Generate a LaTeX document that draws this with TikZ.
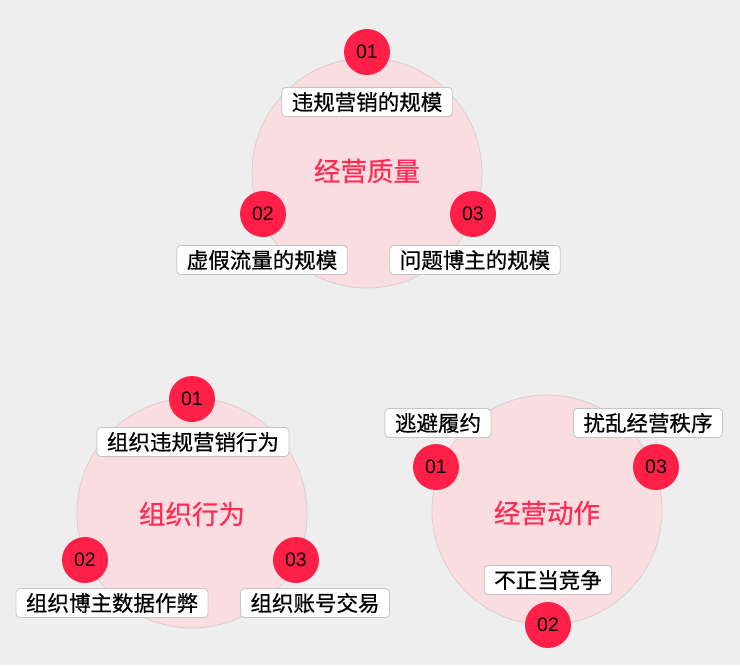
\documentclass[tikz,border=0pt]{standalone}
\usepackage{fontspec}
\setmainfont{Liberation Sans}
\newfontfamily\cjk[FakeBold=0.6]{Noto Sans CJK SC}
\usepackage{tikz}
\definecolor{bgray}{HTML}{EEEEEE}
\definecolor{ringpink}{HTML}{FADDE0}
\definecolor{ringline}{HTML}{D6CCCD}
\definecolor{badgered}{HTML}{FF1F47}
\definecolor{titlered}{HTML}{FF2D55}
\definecolor{boxline}{HTML}{C4C4C4}
\newcommand\ringradius{115}

\begin{document}
\begin{tikzpicture}[x=1pt, y=-1pt,
    ring/.style={circle, draw=ringline, line width=0.7pt, fill=ringpink, minimum size=2*\ringradius pt, inner sep=0pt},
    title/.style={text=titlered, font=\cjk\fontsize{26.5}{26.5}\selectfont},
    badge/.style={circle, fill=badgered, minimum size=46pt, inner sep=0pt, font=\fontsize{19.5}{19.5}\selectfont},
    tag/.style={draw=boxline, line width=0.8pt, fill=white, rounded corners=4pt, minimum height=29pt, inner xsep=10pt, inner ysep=0pt, font=\cjk\fontsize{21.5}{21.5}\selectfont}]
        \useasboundingbox (0,0) rectangle (740,665);
        \fill[bgray] (0,0) rectangle (740,665);
        % quality
        \node[ring]  (quality) at (367, 173) {};
        \node[title] (qualityt) at (367, 171) {经营质量};
        \node[badge] (q1) at (367, 52)  {01};
        \node[badge] (q2) at (263, 214) {02};
        \node[badge] (q3) at (473, 214) {03};
        \node[tag]   (q1t) at (367, 102) {违规营销的规模};
        \node[tag]   (q2t) at (262, 260) {虚假流量的规模};
        \node[tag]   (q3t) at (475, 260) {问题博主的规模};
        % organisation
        \node[ring]  (group) at (192, 513) {};
        \node[title] (groupt) at (192, 514) {组织行为};
        \node[badge] (g1) at (192, 399) {01};
        \node[badge] (g2) at (85, 560)  {02};
        \node[badge] (g3) at (296, 560) {03};
        \node[tag]   (g1t) at (193, 442) {组织违规营销行为};
        \node[tag]   (g2t) at (112, 603) {组织博主数据作弊};
        \node[tag]   (g3t) at (315, 603) {组织账号交易};
        % operation
        \node[ring]  (action) at (547, 510) {};
        \node[title] (actiont) at (547, 513) {经营动作};
        \node[badge] (a1) at (436, 467) {01};
        \node[badge] (a2) at (548, 625) {02};
        \node[badge] (a3) at (656, 467) {03};
        \node[tag]   (a1t) at (438, 423) {逃避履约};
        \node[tag]   (a2t) at (548, 580) {不正当竞争};
        \node[tag]   (a3t) at (648, 423) {扰乱经营秩序};
    \end{tikzpicture}
\end{document}
